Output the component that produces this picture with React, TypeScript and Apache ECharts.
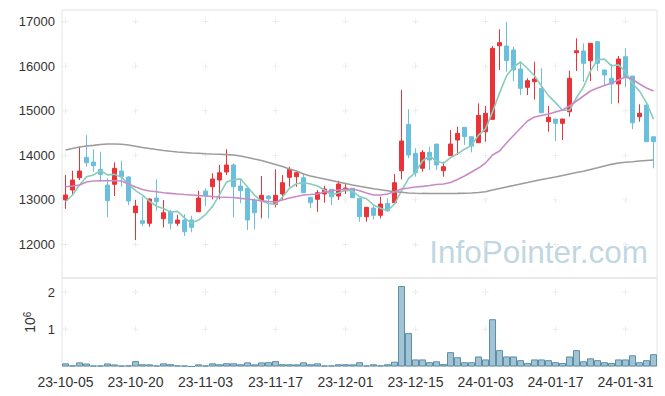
import React, { useEffect, useRef } from "react";
import * as echarts from "echarts";

const dates: string[] = [
  "2023-10-05","2023-10-06","2023-10-10","2023-10-11","2023-10-12","2023-10-13","2023-10-16","2023-10-17","2023-10-18","2023-10-19",
  "2023-10-20","2023-10-23","2023-10-24","2023-10-25","2023-10-26","2023-10-27","2023-10-30","2023-10-31","2023-11-01","2023-11-02",
  "2023-11-03","2023-11-06","2023-11-07","2023-11-08","2023-11-09","2023-11-10","2023-11-13","2023-11-14","2023-11-15","2023-11-16",
  "2023-11-17","2023-11-20","2023-11-21","2023-11-22","2023-11-23","2023-11-24","2023-11-27","2023-11-28","2023-11-29","2023-11-30",
  "2023-12-01","2023-12-04","2023-12-05","2023-12-06","2023-12-07","2023-12-08","2023-12-11","2023-12-12","2023-12-13","2023-12-14",
  "2023-12-15","2023-12-18","2023-12-19","2023-12-20","2023-12-21","2023-12-22","2023-12-26","2023-12-27","2023-12-28","2024-01-02",
  "2024-01-03","2024-01-04","2024-01-05","2024-01-08","2024-01-09","2024-01-10","2024-01-11","2024-01-12","2024-01-15","2024-01-16",
  "2024-01-17","2024-01-18","2024-01-19","2024-01-22","2024-01-23","2024-01-24","2024-01-25","2024-01-26","2024-01-29","2024-01-30",
  "2024-01-31","2024-02-01","2024-02-02","2024-02-05","2024-02-06",
];

const opens: number[] = [
  13000,13222,13498,13955,13850,13686,13334,13350,13648,13514,
  12713,12535,12476,13042,12579,12735,12476,12550,12550,12735,
  13200,13296,13446,13626,13783,13312,13260,12998,12982,13088,
  12902,13133,13507,13521,13498,13059,13014,13133,13238,13088,
  13207,13260,13036,12624,12818,12655,12924,12938,13655,14695,
  14045,13709,14068,14253,13655,13991,14343,14628,14417,14283,
  14529,14807,16457,16451,16361,15935,15525,15650,15502,14754,
  14814,14718,14978,16300,16339,16121,16547,15913,15727,15599,
  16211,15778,14866,15128,14417,
];

const closes: number[] = [
  13110,13446,13648,13834,13767,13574,12982,13709,13520,12976,
  12863,12476,13020,12960,12713,12476,12550,12287,12386,13043,
  13094,13469,13610,13783,13296,13206,12550,12713,13103,13027,
  13103,13386,13686,13610,13162,12938,13162,13245,13072,13357,
  13267,13050,12624,12834,12655,12908,12758,13386,14321,14007,
  13610,14068,13895,13783,13745,14253,14493,14417,14209,14897,
  14942,16399,16525,16121,15913,15502,15673,15711,14955,14852,
  14718,14814,15727,16345,16063,16511,16063,15801,15599,16159,
  15767,14731,14942,14305,14305,
];

const lows: number[] = [
  12800,13110,13446,13745,13632,13408,12610,13088,13296,12880,
  12101,12415,12400,12758,12386,12348,12415,12190,12274,12730,
  12864,13014,13014,13558,12610,12924,12326,12340,12588,12588,
  12834,12998,13296,13296,13160,12812,12735,12938,12886,12998,
  13133,13045,12512,12512,12565,12588,12735,12930,13462,13933,
  13520,13633,13670,13670,13520,13990,14007,14231,14067,14280,
  14305,14800,15913,15875,15666,15352,15352,15250,14942,14529,
  14321,14343,14866,15890,15650,15666,15890,15554,15150,15166,
  15525,14584,14754,14300,13709,
];

const highs: number[] = [
  13560,13655,14193,14455,14135,14081,13485,13843,13879,13530,
  12998,13072,13036,13462,12998,12774,12668,12677,12646,13206,
  13261,13597,13783,14135,13821,13446,13270,13036,13536,13110,
  13686,13558,13745,13633,13597,13060,13222,13318,13245,13431,
  13386,13265,13040,12840,12886,13072,13036,13581,15465,15032,
  14157,14119,14193,14255,13857,14567,14641,14630,14420,15166,
  15106,16451,16825,16996,16435,16099,15727,16099,15951,15106,
  14815,14815,15897,16623,16511,16515,16550,15915,16050,16227,
  16399,15780,15144,15130,14420,
];

const ma5: number[] = [
  12960,13110,13334,13520,13561,13654,13561,13573,13510,13352,
  13210,13109,12971,12859,12806,12729,12744,12597,12482,12548,
  12672,12856,13120,13400,13450,13473,13289,13110,12974,12920,
  12899,13066,13261,13362,13389,13356,13312,13223,13116,13155,
  13221,13198,13074,13026,12886,12814,12756,12908,13206,13476,
  13616,13878,13980,13873,13820,13949,14034,14138,14223,14454,
  14592,14973,15394,15777,15980,16092,15947,15784,15551,15339,
  15182,15010,15013,15291,15533,15892,16142,16157,16007,16027,
  15878,15611,15440,15181,14810,
];

const ma20: number[] = [
  13296,13312,13334,13401,13424,13431,13431,13431,13424,13357,
  13290,13233,13200,13184,13162,13148,13133,13121,13110,13099,
  13088,13076,13065,13059,13054,13036,13020,12998,12980,12964,
  12953,12998,13043,13076,13110,13121,13133,13177,13207,13222,
  13238,13245,13207,13155,13110,13110,13133,13184,13245,13267,
  13290,13305,13323,13346,13357,13390,13458,13536,13626,13715,
  13828,14007,14097,14276,14444,14606,14769,14859,14893,14926,
  14971,15016,15106,15218,15330,15442,15509,15565,15621,15688,
  15756,15700,15599,15509,15442,
];

const ma60: number[] = [
  14119,14153,14186,14209,14224,14242,14253,14253,14247,14231,
  14202,14175,14153,14130,14108,14090,14074,14063,14052,14045,
  14036,14029,14023,14016,14007,13985,13951,13917,13884,13839,
  13794,13749,13693,13648,13581,13536,13502,13469,13435,13401,
  13368,13334,13305,13278,13251,13229,13207,13184,13171,13155,
  13150,13146,13144,13143,13143,13144,13146,13149,13155,13166,
  13184,13222,13256,13290,13323,13357,13390,13424,13458,13485,
  13514,13547,13581,13614,13644,13682,13720,13760,13798,13828,
  13845,13857,13872,13884,13895,
];

const volumes: number[] = [
  85000,30000,110000,80000,25000,28000,82000,55000,24000,30000,
  145000,60000,58000,28000,85000,62000,30000,26000,0,58000,
  28000,85000,60000,88000,86000,60000,112000,58000,110000,115000,
  145000,62000,60000,58000,112000,60000,85000,26000,28000,60000,
  62000,58000,115000,28000,60000,30000,60000,130000,2160000,900000,
  190000,190000,115000,140000,65000,385000,250000,115000,115000,270000,
  190000,1270000,440000,270000,270000,170000,95000,190000,190000,170000,
  115000,95000,270000,440000,140000,220000,170000,115000,95000,190000,
  190000,300000,115000,170000,330000,
];

const xTickIdx: number[] = [0, 10, 20, 30, 40, 50, 60, 70, 80];
const priceTicks: number[] = [12000, 13000, 14000, 15000, 16000, 17000];
const volumeTicks: number[] = [1000000, 2000000];

const UP = "#eb3238";
const DOWN = "#6ac0dc";
const FONT = "Liberation Sans";

export default function App() {
  const ref = useRef<HTMLDivElement>(null);

  useEffect(() => {
    if (!ref.current) return;
    const chart = echarts.init(ref.current, undefined, { renderer: "svg" });

    const candles = dates.map((_, i) => [opens[i], closes[i], lows[i], highs[i]]);
    const priceCross: number[][] = [];
    xTickIdx.forEach((x) => priceTicks.forEach((y) => priceCross.push([x, y])));
    const volCross: number[][] = [];
    xTickIdx.forEach((x) => volumeTicks.forEach((y) => volCross.push([x, y])));
    const crossSymbol = "path://M3 0H4V7H3ZM0 3H7V4H0Z";

    chart.setOption({
      animation: false,
      backgroundColor: "#ffffff",
      textStyle: { fontFamily: FONT },
      grid: [
        { left: 62, right: 8, top: 10, height: 268, show: true, borderColor: "#e4e4e4", borderWidth: 1 },
        { left: 62, right: 8, top: 278, height: 88.5, show: true, borderColor: "#e4e4e4", borderWidth: 1 },
      ],
      xAxis: [
        {
          type: "category", gridIndex: 0, data: dates, boundaryGap: true,
          axisLine: { show: false }, axisTick: { show: false }, axisLabel: { show: false }, splitLine: { show: false },
        },
        {
          type: "category", gridIndex: 1, data: dates, boundaryGap: true,
          axisLine: { show: false }, axisTick: { show: false }, splitLine: { show: false },
          axisLabel: {
            interval: 9, margin: 8, fontSize: 14, color: "#333", fontFamily: FONT,
            formatter: (v: string) => v.slice(2),
          },
        },
      ],
      yAxis: [
        {
          type: "value", gridIndex: 0, min: 11250, max: 17258,
          axisLine: { show: false }, axisTick: { show: false }, splitLine: { show: false },
          axisLabel: {
            margin: 7, fontSize: 13, color: "#333", fontFamily: FONT,
            formatter: (v: number) => (v % 1000 === 0 ? String(v) : ""),
          },
        },
        {
          type: "value", gridIndex: 1, min: 0, max: 2376000, interval: 1000000,
          axisLine: { show: false }, axisTick: { show: false }, splitLine: { show: false },
          axisLabel: {
            margin: 7, fontSize: 13, color: "#333", fontFamily: FONT,
            formatter: (v: number) => (v > 0 && v % 1000000 === 0 ? String(v / 1000000) : ""),
          },
          name: "{a|10}{b|6}",
          nameLocation: "middle",
          nameRotate: 90,
          nameGap: 24,
          nameTextStyle: {
            rich: {
              a: { fontSize: 14, color: "#333", fontFamily: FONT },
              b: { fontSize: 10, color: "#333", fontFamily: FONT, verticalAlign: "top" },
            },
          },
        },
      ],
      graphic: [
        {
          type: "text", right: 17, top: 236, z: 0,
          style: { text: "InfoPointer.com", fontSize: 31.5, fontFamily: FONT, fill: "rgba(150,188,205,0.6)" },
        },
      ],
      series: [
        {
          type: "scatter", xAxisIndex: 0, yAxisIndex: 0, data: priceCross, symbol: crossSymbol, symbolSize: 6,
          itemStyle: { color: "#e6e6e6" }, z: 1, silent: true,
        },
        {
          type: "scatter", xAxisIndex: 1, yAxisIndex: 1, data: volCross, symbol: crossSymbol, symbolSize: 6,
          itemStyle: { color: "#e6e6e6" }, z: 1, silent: true,
        },
        {
          type: "candlestick", xAxisIndex: 0, yAxisIndex: 0, data: candles, barWidth: 5, z: 3,
          itemStyle: { color: UP, color0: DOWN, borderColor: UP, borderColor0: DOWN, borderWidth: 1 },
        },
        {
          type: "line", xAxisIndex: 0, yAxisIndex: 0, data: ma5, showSymbol: false, z: 4,
          lineStyle: { color: "#88ccbb", width: 1.6 },
        },
        {
          type: "line", xAxisIndex: 0, yAxisIndex: 0, data: ma20, showSymbol: false, z: 4,
          lineStyle: { color: "#c98bc7", width: 1.6 },
        },
        {
          type: "line", xAxisIndex: 0, yAxisIndex: 0, data: ma60, showSymbol: false, z: 4,
          lineStyle: { color: "#9c9c9c", width: 1.6 },
        },
        {
          type: "bar", xAxisIndex: 1, yAxisIndex: 1, data: volumes, barCategoryGap: "0%", z: 3,
          itemStyle: { color: "rgba(140,180,200,0.8)", borderColor: "#5a8fa9", borderWidth: 1 },
        },
      ],
    });

    return () => chart.dispose();
  }, []);

  return <div ref={ref} style={{ width: 665, height: 396, position: "absolute", left: 0, top: 0 }} />;
}
